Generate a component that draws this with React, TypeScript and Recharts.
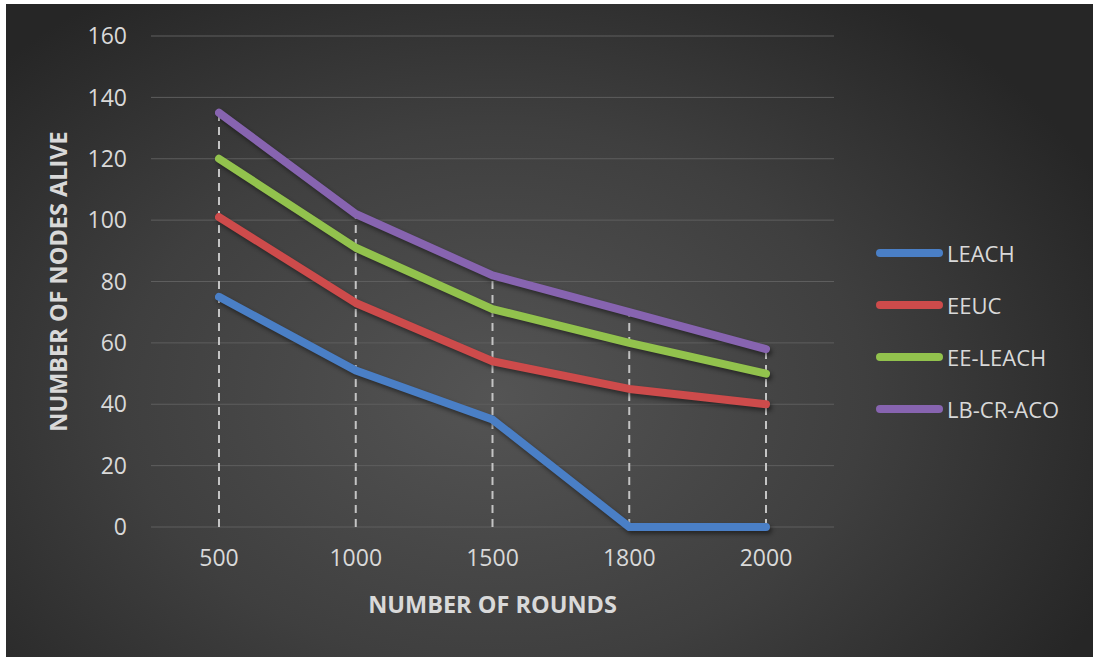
import React from "react";
import {
  LineChart,
  Line,
  XAxis,
  YAxis,
  CartesianGrid,
  ReferenceLine,
  Legend,
} from "recharts";

// Rounds on the x axis
const rounds = ["500", "1000", "1500", "1800", "2000"];

// Nodes alive per protocol
const leach = [75, 51, 35, 0, 0];
const eeuc = [101, 73, 54, 45, 40];
const eeLeach = [120, 91, 71, 60, 50];
const lbCrAco = [135, 102, 82, 70, 58];

const yTicks = [0, 20, 40, 60, 80, 100, 120, 140, 160];

const series = [
  { key: "LEACH", values: leach, color: "#4a7fc6" },
  { key: "EEUC", values: eeuc, color: "#cd4b4b" },
  { key: "EE-LEACH", values: eeLeach, color: "#92c24d" },
  { key: "LB-CR-ACO", values: lbCrAco, color: "#8764b0" },
];

const data = rounds.map((round, i) => {
  const row: Record<string, string | number> = { round };
  series.forEach((s) => {
    row[s.key] = s.values[i];
  });
  return row;
});

// highest value per round, used for the dashed drop lines
const dropTops = rounds.map((_, i) => Math.max(...series.map((s) => s.values[i])));

const FONT = "'Open Sans', 'Noto Sans', sans-serif";
const TEXT = "#d9d9d9";

const LegendBox = () => (
  <div style={{ fontFamily: FONT }}>
    {series.map((s) => (
      <div
        key={s.key}
        style={{ display: "flex", alignItems: "center", height: 52 }}
      >
        <div
          style={{
            width: 67,
            height: 8,
            borderRadius: 4,
            background: s.color,
            marginRight: 4,
          }}
        />
        <span style={{ color: TEXT, fontSize: 22, lineHeight: "22px" }}>{s.key}</span>
      </div>
    ))}
  </div>
);

export default function App() {
  return (
    <div
      style={{
        position: "absolute",
        left: 0,
        top: 0,
        width: 1093,
        height: 657,
        background: "#ffffff",
        overflow: "hidden",
      }}
    >
      <style>{`.recharts-line-curve{filter:drop-shadow(2px 3px 2px rgba(0,0,0,0.45));}`}</style>
      <div
        style={{
          position: "absolute",
          left: 6,
          top: 4,
          width: 1087,
          height: 653,
          background:
            "radial-gradient(ellipse 62% 75% at 45% 60%, #545454 0%, #3f3f3f 55%, #262626 100%)",
        }}
      />
      <div style={{ position: "absolute", left: 0, top: 0 }}>
        <LineChart
          width={1093}
          height={657}
          data={data}
          margin={{ top: 36, right: 259, left: 0, bottom: 40 }}
        >
          <CartesianGrid vertical={false} stroke="#5e5e5e" strokeWidth={1} />
          <XAxis
            dataKey="round"
            padding={{ left: 68, right: 68 }}
            axisLine={false}
            tickLine={false}
            tickSize={0}
            tickMargin={23}
            height={90}
            tick={{ fill: TEXT, fontSize: 23, fontFamily: FONT }}
            label={{
              content: ({ viewBox }: any) => (
                <text
                  x={viewBox.x + viewBox.width / 2}
                  y={viewBox.y + 86}
                  textAnchor="middle"
                  fill={TEXT}
                  fontSize={23.5}
                  fontWeight={700}
                  fontFamily={FONT}
                >
                  NUMBER OF ROUNDS
                </text>
              ),
            }}
          />
          <YAxis
            domain={[0, 160]}
            ticks={yTicks}
            width={151}
            axisLine={false}
            tickLine={false}
            tickSize={0}
            tickMargin={24}
            tick={{ fill: TEXT, fontSize: 23, fontFamily: FONT }}
            label={{
              content: ({ viewBox }: any) => {
                const cx = viewBox.x + 58;
                const cy = viewBox.y + viewBox.height / 2;
                return (
                  <text
                    x={cx}
                    y={cy}
                    transform={`rotate(-90, ${cx}, ${cy})`}
                    textAnchor="middle"
                    dominantBaseline="central"
                    fill={TEXT}
                    fontSize={23.5}
                    fontWeight={700}
                    fontFamily={FONT}
                  >
                    NUMBER OF NODES ALIVE
                  </text>
                );
              },
            }}
          />
          {rounds.map((r, i) => (
            <ReferenceLine
              key={r}
              segment={[
                { x: r, y: 0 },
                { x: r, y: dropTops[i] },
              ]}
              stroke="#c4c4c4"
              strokeWidth={2}
              strokeDasharray="8 6"
            />
          ))}
          {series.map((s) => (
            <Line
              key={s.key}
              dataKey={s.key}
              stroke={s.color}
              strokeWidth={8}
              strokeLinecap="round"
              strokeLinejoin="round"
              dot={false}
              activeDot={false}
              isAnimationActive={false}
            />
          ))}
          <Legend
            layout="horizontal"
            verticalAlign="middle"
            align="center"
            wrapperStyle={{ left: 876, top: 227, width: 210 }}
            content={() => <LegendBox />}
          />
        </LineChart>
      </div>
    </div>
  );
}
